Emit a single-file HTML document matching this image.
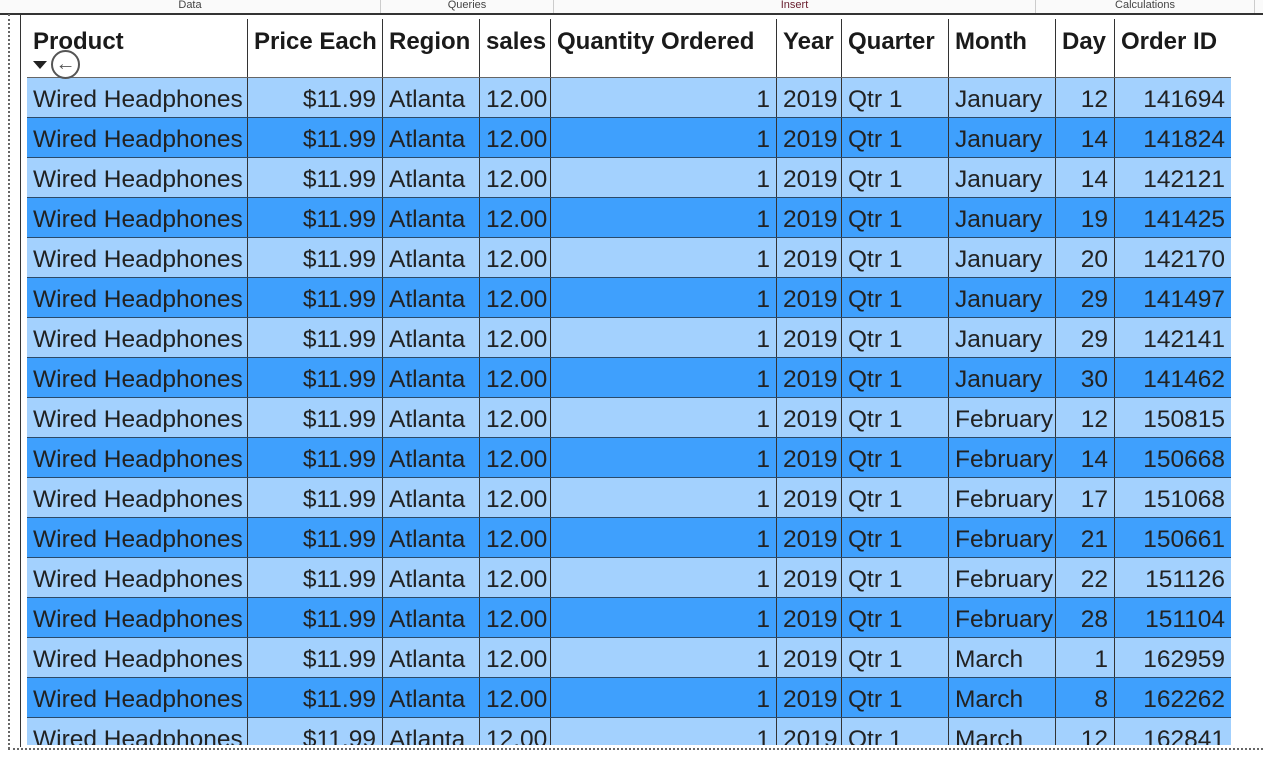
<!DOCTYPE html>
<html><head><meta charset="utf-8"><style>
body{margin:0;width:1263px;height:759px;overflow:hidden;background:#fff;font-family:"Liberation Sans",sans-serif;position:relative}
.rb{position:absolute;top:0;height:13px;font-size:11px;color:#444;text-align:center;line-height:11px;border-right:1px solid #ccc}
#tbl{position:absolute;left:0;top:0}
.c{position:absolute;font-size:24.5px;color:#222;white-space:nowrap;box-sizing:border-box;padding:0 6px;overflow:hidden}
.h{font-weight:bold;color:#1a1a1a;font-size:24px}
</style></head><body>
<div style="position:absolute;left:0;top:0;width:1263px;height:13px;background:#fafafa;border-bottom:2px solid #333"></div>
<div class="rb" style="left:0;width:380px">Data</div>
<div class="rb" style="left:381px;width:172px">Queries</div>
<div class="rb" style="left:554px;width:481px;color:#6a2030">Insert</div>
<div class="rb" style="left:1036px;width:218px">Calculations</div>
<div style="position:absolute;left:8px;top:14px;width:0;height:735px;border-left:2px dotted #666"></div>
<div style="position:absolute;left:8px;top:748px;width:1255px;height:0;border-top:2px dotted #666"></div>
<div style="position:absolute;left:20px;top:13px;width:0;height:734px;border-left:1px solid #333"></div>
<div id="tbl"></div>
<div style="position:absolute;left:33px;top:61px;width:0;height:0;border-left:7px solid transparent;border-right:7px solid transparent;border-top:8px solid #222"></div>
<div style="position:absolute;left:51px;top:50px;width:25px;height:25px;border:2px solid #555;border-radius:50%;font-size:20px;line-height:24px;text-align:center;color:#555;background:rgba(255,255,255,0.4)">&#8592;</div>
<script>
const headers=["Product","Price Each","Region","sales","Quantity Ordered","Year","Quarter","Month","Day","Order ID"];
const months=["January","January","January","January","January","January","January","January","February","February","February","February","February","February","March","March","March"];
const days=[12,14,14,19,20,29,29,30,12,14,17,21,22,28,1,8,12];
const orderIds=[141694,141824,142121,141425,142170,141497,142141,141462,150815,150668,151068,150661,151126,151104,162959,162262,162841];
const colX=[27,247,382,479,550,776,841,948,1055,1114,1231];
const align=["left","right","left","left","right","left","left","left","right","right"];
const T=document.getElementById('tbl');
function cell(x,y,w,h,txt,al,cls,bg,name){
  const d=document.createElement('div');
  d.className='c '+cls;
  
  
  d.style.cssText=`left:${x}px;top:${y}px;width:${w}px;height:${h}px;text-align:${al};background:${bg};line-height:44px;border-left:${x>27?'1px solid #333':'none'}`;
  d.textContent=txt;T.appendChild(d);
}
headers.forEach((t,i)=>{
  const d=document.createElement('div');
  d.className='c h';
  
  
  d.style.cssText=`left:${colX[i]}px;top:19px;width:${colX[i+1]-colX[i]}px;height:58px;line-height:46px;text-align:left;border-left:${i>0?'1px solid #333':'none'}`;
  d.textContent=t;T.appendChild(d);
});
const line=document.createElement('div');


line.style.cssText='position:absolute;left:27px;top:77px;width:1204px;height:1px;background:#666';
T.appendChild(line);
months.forEach((m,r)=>{
  const y=78+r*40;
  const h=Math.min(39,745-y);
  const bg=r%2?'#3fa0fd':'#a3d1fe';
  const vals=["Wired Headphones","$11.99","Atlanta","12.00","1","2019","Qtr 1",m,String(days[r]),String(orderIds[r])];
  vals.forEach((v,i)=>cell(colX[i],y,colX[i+1]-colX[i],h,v,align[i],'',bg,'cell-r'+(r+1)+'-c'+(i+1)));
  if(y+39<745){
    const s=document.createElement('div');
    
    
    s.style.cssText=`position:absolute;left:27px;top:${y+39}px;width:1204px;height:1px;background:#2a4a6a`;
    T.appendChild(s);
  }
});
</script>
</body></html>
